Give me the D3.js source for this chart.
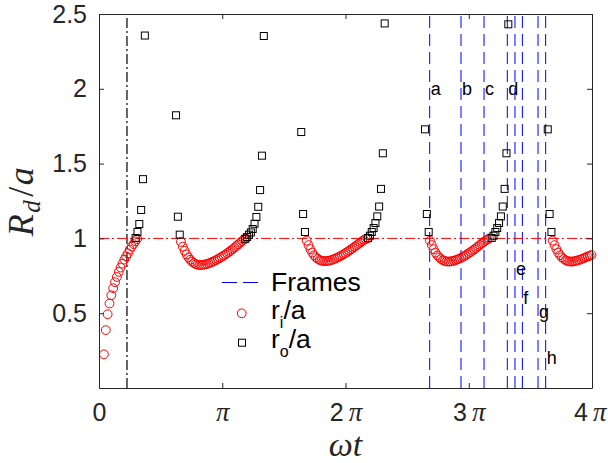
<!DOCTYPE html>
<html><head><meta charset="utf-8">
<script src="https://cdn.jsdelivr.net/npm/d3@7"></script>
<style>body{margin:0;background:#fff}</style>
</head><body>
<svg id="c" width="608" height="463"></svg>
<script>
// ---- data (time in units of pi) ----
const DT = 0.015;
// r_i/a (red circles), segments: start time and values
const riStarts = [0.040, 0.665, 1.685, 2.685, 3.681];
const ri1 = [0.225,0.387,0.493,0.565,0.62,0.667,0.707,0.742,0.776,0.805,0.831,0.858,0.88,0.90,0.925,0.945,0.962,0.98,0.996];
const ri2 = [0.976,0.945,0.917,0.893,0.873,0.857,0.845,0.835,0.828,0.824,0.822,0.822,0.824,0.826,0.829,0.833,0.838,0.843,0.849,0.855,0.862,0.869,0.876,0.884,0.892,0.901,0.910,0.919,0.929,0.939,0.949,0.960,0.971,0.982,0.992,0.998];
const ri3 = [0.985,0.955,0.928,0.905,0.887,0.873,0.863,0.856,0.851,0.849,0.848,0.849,0.851,0.854,0.858,0.863,0.868,0.874,0.880,0.887,0.894,0.902,0.910,0.918,0.927,0.936,0.945,0.954,0.963,0.972,0.981,0.990,0.997,0.999];
const ri4 = [0.985,0.955,0.928,0.905,0.887,0.873,0.862,0.854,0.849,0.846,0.845,0.846,0.848,0.851,0.855,0.860,0.865,0.871,0.878,0.885,0.893,0.901,0.909,0.918,0.927,0.936,0.946,0.956,0.966,0.975,0.984,0.992,0.999];
const ri5 = [0.985,0.955,0.928,0.905,0.887,0.873,0.862,0.854,0.849,0.846,0.845,0.846,0.848,0.851,0.855,0.859,0.864,0.869,0.874,0.879,0.884,0.889];
// r_o/a (black squares)
const roStarts = [0.297, 0.625, 1.187, 1.641, 2.183, 2.645, 3.186, 3.641];
const ro1 = [1.003,1.043,1.096,1.19,1.396,2.356];
const ro2 = [1.823,1.145,1.025];
const ro3 = [0.998,1.009,1.025,1.04,1.063,1.098,1.143,1.211,1.323,1.553,2.353];
const ro4 = [1.711,1.163,1.043];
const ro5 = [1.003,1.018,1.043,1.069,1.103,1.147,1.213,1.331,1.569,2.437];
const ro6 = [1.729,1.163,1.043];
const ro7 = [1.003,1.018,1.043,1.069,1.103,1.147,1.213,1.331,1.569,2.431];
const ro8 = [1.729,1.163,1.043];
// frames
const frameTimes = [2.683,2.937,3.124,3.313,3.375,3.435,3.562,3.624];
const frameLabels = ["a","b","c","d","e","f","g","h"];
const frameLabelY = [1.99,1.99,1.99,1.99,0.79,0.59,0.5,0.19];
const markerTime = 0.227;   // black dash-dot line
const refLevel = 1;         // red dash-dot line
const xTicks = [0,1,2,3,4];
const xTickLabels = ["0","\u03c0","2\u03c0","3\u03c0","4\u03c0"];
const yTicks = [0.5,1,1.5,2,2.5];
const yTickLabels = ["0.5","1","1.5","2","2.5"];

function seg(starts, arrs){
  const out=[];
  arrs.forEach((a,k)=>a.forEach((v,i)=>out.push({t:starts[k]+i*DT, v})));
  return out;
}
const riData = seg(riStarts,[ri1,ri2,ri3,ri4,ri5]);
const roData = seg(roStarts,[ro1,ro2,ro3,ro4,ro5,ro6,ro7,ro8]);

// ---- chart ----
const svg = d3.select("#c");
const L=99, R=592, T=14, B=388;
const x = d3.scaleLinear().domain([0,4]).range([L,R]);
const y = d3.scaleLinear().domain([0,2.5]).range([B,T]);
const AX="#262626";
const sans="Liberation Sans, Arial, Helvetica, sans-serif";
const serif="Liberation Serif, Times New Roman, serif";

svg.append("defs").append("clipPath").attr("id","clip")
  .append("rect").attr("x",L).attr("y",T).attr("width",R-L).attr("height",B-T);
const plot = svg.append("g").attr("clip-path","url(#clip)");

// frame lines
plot.selectAll(".fr").data(frameTimes).join("line")
  .attr("x1",d=>x(d)).attr("x2",d=>x(d)).attr("y1",y(0)).attr("y2",y(2.5))
  .attr("stroke","#0000ff").attr("stroke-width",1).attr("stroke-dasharray","12,6");
// ref lines
plot.append("line").attr("x1",x(markerTime)).attr("x2",x(markerTime)).attr("y1",y(0)).attr("y2",y(2.5))
  .attr("stroke","#000").attr("stroke-width",1.2).attr("stroke-dasharray","10,3,2,3");
plot.append("line").attr("x1",x(0)).attr("x2",x(4)).attr("y1",y(refLevel)).attr("y2",y(refLevel))
  .attr("stroke","#ff0000").attr("stroke-width",1).attr("stroke-dasharray","10,3,2,3");

// markers
svg.append("g").selectAll("circle").data(riData).join("circle")
  .attr("cx",d=>x(d.t)).attr("cy",d=>y(d.v)).attr("r",4.4)
  .attr("fill","none").attr("stroke","#ff0000").attr("stroke-width",1);
svg.append("g").selectAll("rect").data(roData.filter(d=>d.v<=2.5)).join("rect")
  .attr("x",d=>x(d.t)-3.5).attr("y",d=>y(d.v)-3.5).attr("width",7).attr("height",7)
  .attr("fill","none").attr("stroke","#000").attr("stroke-width",1);

// frame labels
svg.append("g").selectAll("text").data(frameTimes).join("text")
  .attr("x",d=>x(d)+1).attr("y",(d,i)=>y(frameLabelY[i]))
  .attr("dominant-baseline","middle").attr("font-family",sans).attr("font-size",18)
  .attr("fill","#000").text((d,i)=>frameLabels[i]);

// axes
const gx = svg.append("g").attr("transform",`translate(0,${B})`)
  .call(d3.axisBottom(x).tickValues(xTicks).tickSizeInner(-5).tickSizeOuter(0).tickPadding(12).tickFormat((d,i)=>xTickLabels[i]));
const gxt = svg.append("g").attr("transform",`translate(0,${T})`)
  .call(d3.axisTop(x).tickValues(xTicks).tickSizeInner(-5).tickSizeOuter(0).tickFormat(""));
const gy = svg.append("g").attr("transform",`translate(${L},0)`)
  .call(d3.axisLeft(y).tickValues(yTicks).tickSizeInner(-5).tickSizeOuter(0).tickPadding(12).tickFormat((d,i)=>yTickLabels[i]));
const gyr = svg.append("g").attr("transform",`translate(${R},0)`)
  .call(d3.axisRight(y).tickValues(yTicks).tickSizeInner(-5).tickSizeOuter(0).tickFormat(""));
[gx,gxt,gy,gyr].forEach(g=>{
  g.selectAll("path.domain").attr("stroke",AX).attr("stroke-width",1);
  g.selectAll(".tick line").attr("stroke",AX);
});
gy.selectAll(".tick text").attr("font-family",sans).attr("font-size",25).attr("fill",AX);
gx.selectAll(".tick text").each(function(d,i){
  const s = xTickLabels[i];
  const t = d3.select(this).text(null).attr("fill",AX).attr("font-size",25).attr("dy","0.85em");
  if(s==="0"){ t.append("tspan").attr("font-family",sans).text("0"); }
  else if(s.length===1){ t.append("tspan").attr("font-family",serif).attr("font-style","italic").attr("font-size",27).text(s); }
  else {
    t.append("tspan").attr("font-family",sans).text(s[0]);
    t.append("tspan").attr("font-family",serif).attr("font-style","italic").attr("font-size",27).attr("dx",5).text(s[1]);
  }
});
gx.selectAll(".tick").filter((d,i)=>i===xTicks.length-1).select("text").attr("text-anchor","end").attr("x",14);

// axis labels
svg.append("text").attr("x",(L+R)/2).attr("y",456).attr("text-anchor","middle")
  .attr("font-family",serif).attr("font-style","italic").attr("font-size",34).attr("fill",AX)
  .text("\u03c9t");
const yl = svg.append("text").attr("transform",`translate(33,${(T+B)/2}) rotate(-90)`)
  .attr("text-anchor","middle").attr("font-family",serif).attr("font-size",36).attr("fill",AX)
  .attr("letter-spacing",1.5);
yl.append("tspan").attr("font-style","italic").text("R");
yl.append("tspan").attr("font-style","italic").attr("font-size",25).attr("dy",7).text("d");
yl.append("tspan").attr("dy",-7).attr("dx",2).text("/");
yl.append("tspan").attr("font-style","italic").text("a");

// legend
const lg = svg.append("g");
lg.append("line").attr("x1",222).attr("x2",261).attr("y1",282.5).attr("y2",282.5)
  .attr("stroke","#0000ff").attr("stroke-width",1).attr("stroke-dasharray","15,6");
lg.append("text").attr("x",271).attr("y",291).attr("font-family",sans).attr("font-size",26.5).attr("fill","#000").text("Frames");
lg.append("circle").attr("cx",241.7).attr("cy",313.3).attr("r",4.4).attr("fill","none").attr("stroke","#ff0000");
lg.append("rect").attr("x",238.5).attr("y",339.2).attr("width",7).attr("height",7).attr("fill","none").attr("stroke","#000");
function legText(yb, sub){
  const t = lg.append("text").attr("x",271).attr("y",yb).attr("font-family",sans).attr("font-size",26.5).attr("fill","#000");
  t.append("tspan").text("r");
  t.append("tspan").attr("font-size",16).attr("dy",9).text(sub);
  t.append("tspan").attr("dy",-9).text("/a");
}
legText(319,"i");
legText(348,"o");
</script>
</body></html>
